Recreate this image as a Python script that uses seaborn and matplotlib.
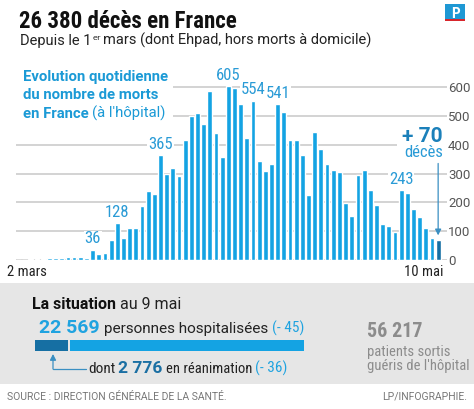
import numpy as np
import pandas as pd
import matplotlib.pyplot as plt
import seaborn as sns
from matplotlib import font_manager
from matplotlib.patches import Rectangle, Polygon
from matplotlib.colors import LinearSegmentedColormap
from matplotlib.text import Annotation

W, H = 474, 409

# Décès quotidiens à l'hôpital
mars = [1, 1, 1, 2, 2, 2, 6, 6, 7, 11, 11, 12, 8, 36, 21, 24, 69, 128,
        78, 112, 112, 186, 240, 231, 365, 299, 319, 292, 418, 499]          # 2 -> 31 mars
avril = [509, 471, 588, 441, 357, 605, 597, 541, 424, 554, 345, 310, 335, 541, 514,
         417, 418, 364, 227, 443, 387, 334, 311, 304, 198, 153, 294, 312, 243, 190]
mai = [125, 118, 96, 243, 234, 177, 149, 111, 75, 70]                     # 1 -> 10 mai
deces = mars + avril + mai
jours = pd.date_range("2020-03-02", "2020-05-10")

jours_annotes = ["2020-03-15", "2020-03-19", "2020-03-26", "2020-04-06",
                 "2020-04-10", "2020-04-14", "2020-05-04"]
yticks = [0, 100, 200, 300, 400, 500, 600]
xlabels = ["2 mars", "10 mai"]

hospitalises = 22569
reanimation = 2776
gueris = 56217

BLUE = "#14a3e3"
DARK = "#166fa3"
TXT_BLUE = "#2a9bd6"
PLUS_BLUE = "#1b80ba"
GRID = "#c8c8c8"
GREY_TXT = "#8c8c8c"
PANEL = "#e6e6e6"

# the original uses a condensed face; take one if the machine has it
installed = {f.name for f in font_manager.fontManager.ttflist}
narrow_name = next((n for n in ["Roboto Condensed", "Liberation Sans Narrow", "Arial Narrow"]
                    if n in installed), "Liberation Sans")
NS = 1.0 if narrow_name != "Liberation Sans" else 0.84
NARROW = [narrow_name, "DejaVu Sans"]
SANS = ["Roboto", "DejaVu Sans"]

sns.set_style("white")
plt.rcParams["font.family"] = SANS

fig = plt.figure(figsize=(W / 100, H / 100), dpi=100)
renderer = fig.canvas.get_renderer()


def fx(x):
    return x / W


def fy(y):
    return 1 - y / H


def rect(x0, y0, x1, y1, color, z=0):
    fig.patches.append(Rectangle((fx(x0), fy(y1)), (x1 - x0) / W, (y1 - y0) / H,
                                 transform=fig.transFigure, fc=color, ec="none", zorder=z))


def runs(x, y, parts, gap=4):
    # place several text pieces one after another on a baseline
    for s, kw in parts:
        t = fig.text(fx(x), fy(y), s, va="baseline", ha="left", **kw)
        x += t.get_window_extent(renderer).width + gap


# ---- bar chart ----
ax = fig.add_axes([fx(9.3), fy(260), 438.1 / W, (260 - 72.9) / H])
df = pd.DataFrame({"jour": range(len(deces)), "deces": deces})
sns.barplot(data=df, x="jour", y="deces", color=BLUE, saturation=1, width=0.78,
            ax=ax, zorder=2)
ax.patches[-1].set_facecolor(DARK)
ax.set_xlim(-0.5, 70.5)
ax.set_ylim(0, 650)
ax.hlines(yticks, 0.6, 70.5, color=GRID, lw=1.1, zorder=0)
for s in ax.spines.values():
    s.set_visible(False)
ax.set_xticks([])
ax.set_xlabel("")
ax.set_ylabel("")
ax.yaxis.tick_right()
ax.set_yticks(yticks)
ax.tick_params(axis="y", length=0, pad=0.5, labelsize=9.5, colors="#555555")
for lab in ax.get_yticklabels():
    lab.set_fontfamily(SANS)

# white areas behind the title block and the "+70" label
ax.add_patch(Rectangle((0.5, 470), 25.5, 180, fc="white", ec="none", zorder=1))
ax.add_patch(Rectangle((62.3, 375), 8.5, 50, fc="white", ec="none", zorder=1))

for d in jours_annotes:
    i = jours.get_loc(pd.Timestamp(d))
    ax.annotate(str(deces[i]), (i, deces[i]), xytext=(0, 4.5), textcoords="offset points",
                ha="center", va="baseline", color=TXT_BLUE, fontsize=12 * NS, family=NARROW,
                bbox=dict(fc="white", ec="none", pad=0.6), zorder=3)

last = len(deces) - 1
ax.annotate("", xy=(last, deces[last] + 6), xytext=(last, 345),
            arrowprops=dict(arrowstyle="-|>,head_length=0.35,head_width=0.18",
                            color="#3a8fc2", lw=0.9), zorder=3)
fig.text(fx(443), fy(142), "+ 70", ha="right", va="baseline", fontsize=15,
         fontweight="bold", color=PLUS_BLUE)
fig.text(fx(443), fy(157), "décès", ha="right", va="baseline", fontsize=12 * NS,
         family=NARROW, color=TXT_BLUE)

fig.text(fx(7), fy(276), xlabels[0], fontsize=10.5 * NS, family=NARROW, color="#222222",
         va="baseline")
fig.text(fx(443), fy(276), xlabels[1], fontsize=10.5 * NS, family=NARROW, color="#222222",
         va="baseline", ha="right")

fig.text(fx(22.7), fy(80.7), "Evolution quotidienne", fontsize=10.7,
         fontweight="bold", color="#1b9ad6", va="baseline")
fig.text(fx(22.7), fy(99.3), "du nombre de morts", fontsize=10.7,
         fontweight="bold", color="#1b9ad6", va="baseline")
runs(22.7, 117.8, [("en France", dict(fontsize=10.7, fontweight="bold", color="#1b9ad6")),
                   ("(à l'hôpital)", dict(fontsize=10.7, color="#1b9ad6"))], gap=4)

# ---- header ----
fig.text(fx(19), fy(28), "26 380 décès en France", fontsize=16.5 * NS, fontweight="bold",
         family=NARROW, color="#111111", va="baseline")
runs(20, 44.5, [("Depuis le 1", dict(fontsize=10.5, color="#222222")),
                ("ᵉʳ", dict(fontsize=9, color="#222222", family=SANS)),
                ("mars (dont Ehpad, hors morts à domicile)",
                 dict(fontsize=10.5, color="#222222"))], gap=1.5)
rect(445, 4, 465, 19, "#1e98d4", z=1)
rect(445, 19, 465, 21, "#d8262c", z=1)
fig.text(fx(455), fy(17.5), "P", ha="center", va="baseline", fontsize=11,
         fontweight="bold", family=NARROW, color="white", zorder=2)

# ---- bottom panel ----
rect(0, 283, W, 384, PANEL, z=0)
runs(32, 309, [("La situation", dict(fontsize=11.5, fontweight="bold", color="#111111")),
               ("au 9 mai", dict(fontsize=11.5, color="#222222"))], gap=4)
runs(39, 333, [(f"{hospitalises:,}".replace(",", " "),
                dict(fontsize=14, fontweight="bold", color="#1fa3e0")),
               ("personnes hospitalisées", dict(fontsize=11, color="#222222")),
               ("(- 45)", dict(fontsize=11 * NS, family=NARROW, color="#1fa3e0"))], gap=4)

x0, x1 = 35, 304
xr = x0 + (x1 - x0) * reanimation / hospitalises
rect(x0, 340, xr, 351, DARK, z=1)
rect(xr + 1.5, 340, x1, 351, BLUE, z=1)
fig.add_artist(plt.Line2D([fx(53), fx(86)], [fy(368.5), fy(368.5)], color="#3a8fc2", lw=0.9))
fig.add_artist(Annotation("", xy=(fx(53), fy(354)), xytext=(fx(53), fy(369)),
                          xycoords="figure fraction", textcoords="figure fraction",
                          arrowprops=dict(arrowstyle="-|>,head_length=0.35,head_width=0.18",
                                          color="#3a8fc2", lw=0.9, shrinkA=0, shrinkB=0)))
runs(88, 373, [("dont", dict(fontsize=11 * NS, family=NARROW, color="#222222")),
               (f"{reanimation:,}".replace(",", " "),
                dict(fontsize=12.5, fontweight="bold", color="#1b6fa3")),
               ("en réanimation", dict(fontsize=10.5 * NS, family=NARROW, color="#222222")),
               ("(- 36)", dict(fontsize=11 * NS, family=NARROW, color="#1fa3e0"))], gap=3)

# gradient arrow
axa = fig.add_axes([fx(325), fy(357), 33 / W, 24 / H])
axa.set_xlim(325, 358)
axa.set_ylim(357, 333)
axa.axis("off")
grad = LinearSegmentedColormap.from_list("g", ["#e2e2e2", "#9a9a9a"])
im = axa.imshow(np.linspace(0, 1, 64)[None, :], cmap=grad, aspect="auto",
                extent=[325, 358, 357, 333])
poly = Polygon([(325, 340), (345, 340), (345, 334.5), (358, 345), (345, 355.5),
                (345, 350), (325, 350)], closed=True, fc="none", ec="none")
axa.add_patch(poly)
im.set_clip_path(poly)

fig.text(fx(367), fy(337), f"{gueris:,}".replace(",", " "), fontsize=14.5 * NS,
         fontweight="bold", family=NARROW, color=GREY_TXT, va="baseline")
fig.text(fx(367), fy(356), "patients sortis", fontsize=10.5 * NS, family=NARROW,
         color=GREY_TXT, va="baseline")
fig.text(fx(367), fy(370), "guéris de l'hôpital", fontsize=10.5 * NS, family=NARROW,
         color=GREY_TXT, va="baseline")

# ---- footer ----
fig.text(fx(7), fy(400), "SOURCE : DIRECTION GÉNÉRALE DE LA SANTÉ.", fontsize=7.5,
         family=SANS, color="#777777", va="baseline")
fig.text(fx(467), fy(400), "LP/INFOGRAPHIE.", fontsize=7.5, family=SANS,
         color="#777777", va="baseline", ha="right")

fig.savefig("out.png", dpi=100)
